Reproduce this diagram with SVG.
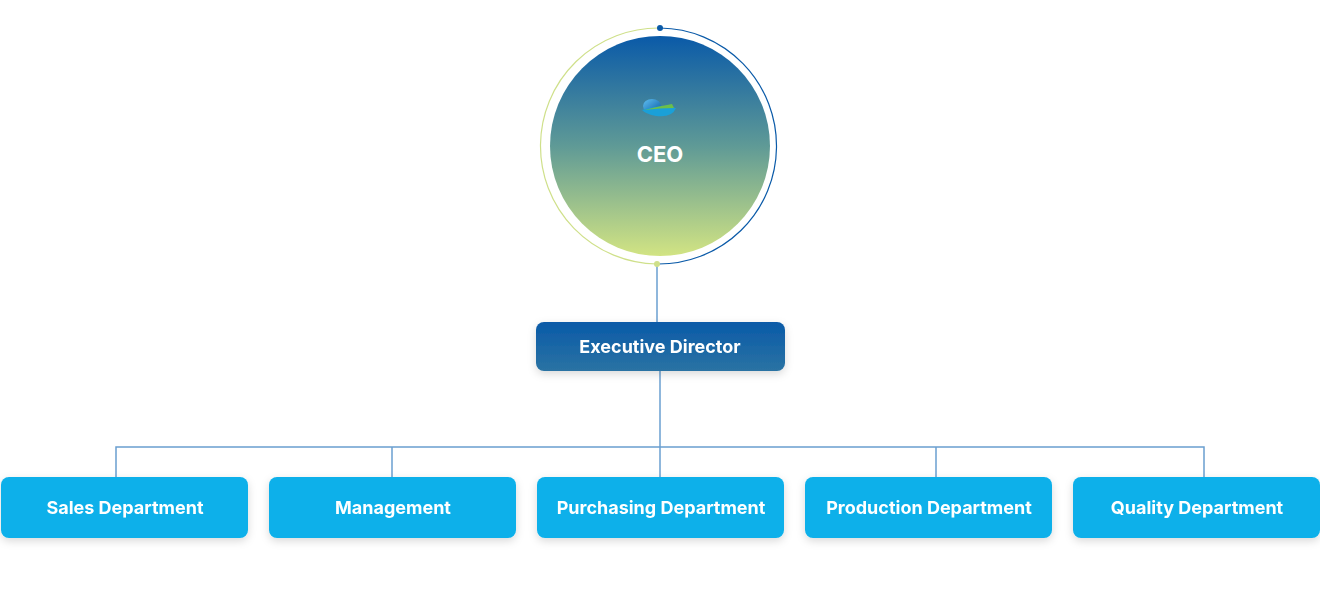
<svg xmlns="http://www.w3.org/2000/svg" width="1320" height="601" viewBox="0 0 1320 601">
<style>
.dept{fill:#0bb0ea}
.lbl{font-family:Inter,"Liberation Sans",sans-serif;font-weight:700;fill:#fff;text-anchor:middle}
.conn{stroke:#6a9fd0;stroke-width:1.5;fill:none}
</style>
<defs>
<linearGradient id="cg" x1="0" y1="0" x2="0" y2="1"><stop offset="0" stop-color="#0a5aa8"/><stop offset="0.5" stop-color="#5f9a96"/><stop offset="1" stop-color="#d2e483"/></linearGradient>
<linearGradient id="eg" x1="0" y1="0" x2="0" y2="1"><stop offset="0" stop-color="#0a5aa8"/><stop offset="1" stop-color="#2a73a3"/></linearGradient>
<linearGradient id="lg" x1="0" y1="0" x2="1" y2="1"><stop offset="0" stop-color="#5fc0f0"/><stop offset="1" stop-color="#0a5aa8"/></linearGradient>
<filter id="sh" x="-10%" y="-20%" width="120%" height="150%"><feDropShadow dx="0" dy="3" stdDeviation="4" flood-color="#000" flood-opacity="0.15"/></filter>
</defs>
<g id="connectors">
<line class="conn" x1="657" y1="264" x2="657" y2="322"/>
<line class="conn" x1="660" y1="371" x2="660" y2="447"/>
<polyline class="conn" points="116,477 116,447 1204,447 1204,477"/>
<line class="conn" x1="392" y1="447" x2="392" y2="477"/>
<line class="conn" x1="660" y1="447" x2="660" y2="477"/>
<line class="conn" x1="936" y1="447" x2="936" y2="477"/>
</g>
<g id="ceo">
<path d="M660,28 A118,118 0 0 0 657,264" fill="none" stroke="#cfe08a" stroke-width="1.2"/>
<path d="M660,28 A118,118 0 0 1 657,264" fill="none" stroke="#0a5aa8" stroke-width="1.2"/>
<circle cx="660" cy="28" r="3" fill="#0a5aa8"/>
<circle cx="657" cy="264" r="3" fill="#cfe08a"/>
<circle cx="660" cy="146" r="110" fill="url(#cg)"/>
<ellipse cx="652" cy="106" rx="9" ry="7" fill="url(#lg)"/>
<path d="M642,110 Q660,104 676,108 Q672,118 656,116 Q646,114 642,110Z" fill="#1aa0d8"/>
<path d="M644,110 Q660,106 672,104 L674,108 Q660,108 644,110Z" fill="#6cc04a"/>
<text class="lbl" x="660" y="162" font-size="22">CEO</text>
</g>
<g id="exec" filter="url(#sh)">
<rect x="536" y="322" width="249" height="49" rx="8" fill="url(#eg)"/>
<text class="lbl" x="660" y="353" font-size="18">Executive Director</text>
</g>
<g id="sales" filter="url(#sh)"><rect class="dept" x="1" y="477" width="247" height="61" rx="8"/><text class="lbl" x="125" y="514" font-size="18">Sales Department</text></g>
<g id="management" filter="url(#sh)"><rect class="dept" x="269" y="477" width="247" height="61" rx="8"/><text class="lbl" x="393" y="514" font-size="18">Management</text></g>
<g id="purchasing" filter="url(#sh)"><rect class="dept" x="537" y="477" width="247" height="61" rx="8"/><text class="lbl" x="661" y="514" font-size="18">Purchasing Department</text></g>
<g id="production" filter="url(#sh)"><rect class="dept" x="805" y="477" width="247" height="61" rx="8"/><text class="lbl" x="929" y="514" font-size="18">Production Department</text></g>
<g id="quality" filter="url(#sh)"><rect class="dept" x="1073" y="477" width="247" height="61" rx="8"/><text class="lbl" x="1197" y="514" font-size="18">Quality Department</text></g>
</svg>
